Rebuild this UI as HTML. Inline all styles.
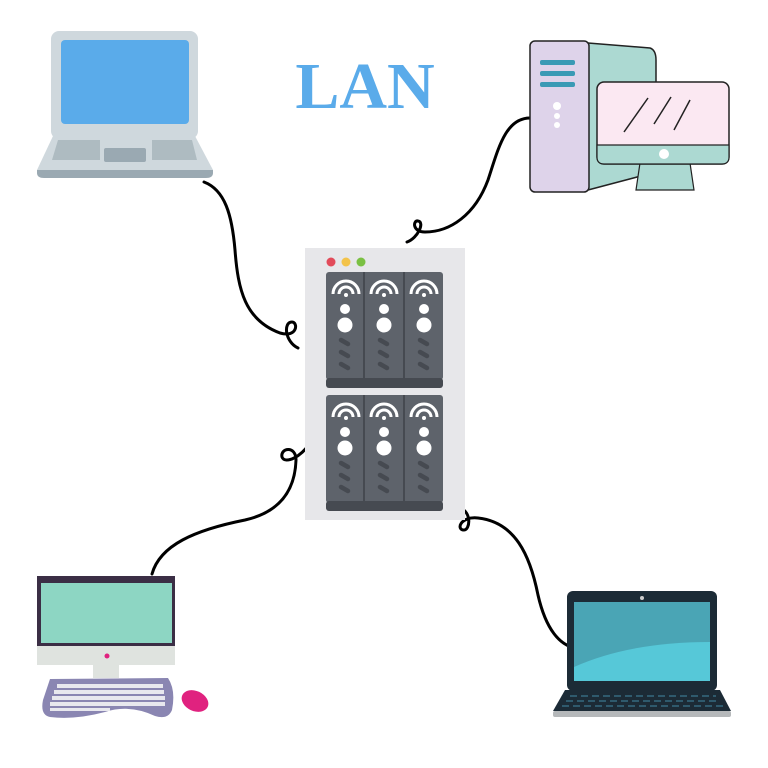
<!DOCTYPE html>
<html><head><meta charset="utf-8"><style>
html,body{margin:0;padding:0;background:#fff;width:768px;height:768px;overflow:hidden}
</style></head><body>
<svg width="768" height="768" viewBox="0 0 768 768" xmlns="http://www.w3.org/2000/svg">
<rect width="768" height="768" fill="#fff"/>
<text x="365" y="108" text-anchor="middle" font-family="Liberation Serif, serif" font-weight="bold" font-size="66" fill="#5aabea">LAN</text>

<g fill="none" stroke="#000" stroke-width="3" stroke-linecap="round">
<path d="M204,182 C225,190 232,215 235,250 C238,290 245,320 280,333 C298,338 298,322 292,322 C283,322 285,342 298,348"/>
<path d="M530,118 C505,118 498,150 488,180 C475,215 450,232 425,232 C412,232 413,220 418,221 C425,222 418,238 407,242"/>
<path d="M152,574 C160,545 195,530 245,520 C280,512 295,490 296,460 C296,445 280,448 282,457 C285,465 302,456 309,444"/>
<path d="M460,508 C472,512 470,530 464,530 C456,530 460,516 478,518 C515,522 530,555 538,595 C546,630 560,645 575,648"/>
</g>

<rect x="51" y="31" width="147" height="108" rx="8" fill="#cfd8dd"/>
<rect x="61" y="40" width="128" height="84" rx="4" fill="#5aabea"/>
<path d="M53,136 L195,136 L213,170 L37,170 Z" fill="#cfd8dd"/>
<path d="M37,170 L213,170 L213,173 Q213,178 206,178 L44,178 Q37,178 37,173 Z" fill="#9aa9b2"/>
<path d="M58,140 L100,140 L100,160 L52,160 Z" fill="#aebbc1"/>
<path d="M152,140 L192,140 L197,160 L152,160 Z" fill="#aebbc1"/>
<rect x="104" y="148" width="42" height="14" rx="2" fill="#9aa9b2"/>

<path d="M588,43 L650,48 Q656,50 656,60 L656,172 L588,190 Z" fill="#acd9d2" stroke="#222" stroke-width="1.5"/>
<rect x="530" y="41" width="59" height="151" rx="5" fill="#ded3ea" stroke="#222" stroke-width="1.5"/>
<rect x="540" y="60" width="35" height="5" rx="2" fill="#3a9ab5"/>
<rect x="540" y="71" width="35" height="5" rx="2" fill="#3a9ab5"/>
<rect x="540" y="82" width="35" height="5" rx="2" fill="#3a9ab5"/>
<circle cx="557" cy="106" r="4" fill="#fff"/><circle cx="557" cy="116" r="3" fill="#fff"/><circle cx="557" cy="125" r="3" fill="#fff"/>
<path d="M640,163 L690,163 L694,190 L636,190 Z" fill="#acd9d2" stroke="#222" stroke-width="1.2"/>
<rect x="597" y="82" width="132" height="82" rx="7" fill="#fbe8f2" stroke="#222" stroke-width="1.5"/>
<path d="M597,145 L729,145 L729,157 Q729,164 722,164 L604,164 Q597,164 597,157 Z" fill="#acd9d2" stroke="#222" stroke-width="1.2"/>
<circle cx="664" cy="154" r="5" fill="#fff"/>
<g stroke="#222" stroke-width="1.5"><line x1="648" y1="98" x2="624" y2="132"/><line x1="671" y1="97" x2="654" y2="124"/><line x1="690" y1="100" x2="674" y2="130"/></g>

<rect x="305" y="248" width="160" height="272" fill="#e7e7ea"/>
<circle cx="331" cy="262" r="4.5" fill="#e24b5a"/><circle cx="346" cy="262" r="4.5" fill="#f3c34a"/><circle cx="361" cy="262" r="4.5" fill="#7ac043"/>
<g id="bay">
<rect x="326" y="272" width="117" height="108" rx="3" fill="#5e636b"/>
<rect x="326" y="378" width="117" height="10" rx="3" fill="#464a51"/>
<line x1="364" y1="272" x2="364" y2="378" stroke="#464a51" stroke-width="2"/>
<line x1="404" y1="272" x2="404" y2="378" stroke="#464a51" stroke-width="2"/>
<g fill="none" stroke="#fff" stroke-width="3">
<path d="M333,294 A13,13 0 0 1 359,294"/><path d="M339,294 A7,7 0 0 1 353,294"/>
<path d="M371,294 A13,13 0 0 1 397,294"/><path d="M377,294 A7,7 0 0 1 391,294"/>
<path d="M411,294 A13,13 0 0 1 437,294"/><path d="M417,294 A7,7 0 0 1 431,294"/>
</g>
<g fill="#fff"><circle cx="346" cy="295" r="2"/><circle cx="384" cy="295" r="2"/><circle cx="424" cy="295" r="2"/>
<circle cx="345" cy="309" r="5"/><circle cx="384" cy="309" r="5"/><circle cx="424" cy="309" r="5"/>
<circle cx="345" cy="325" r="7.5"/><circle cx="384" cy="325" r="7.5"/><circle cx="424" cy="325" r="7.5"/></g>
<g stroke="#464a51" stroke-width="4.5" stroke-linecap="round">
<line x1="341" y1="340" x2="348" y2="344"/><line x1="341" y1="352" x2="348" y2="356"/><line x1="341" y1="364" x2="348" y2="368"/>
<line x1="380" y1="340" x2="387" y2="344"/><line x1="380" y1="352" x2="387" y2="356"/><line x1="380" y1="364" x2="387" y2="368"/>
<line x1="420" y1="340" x2="427" y2="344"/><line x1="420" y1="352" x2="427" y2="356"/><line x1="420" y1="364" x2="427" y2="368"/>
</g>
</g>
<use href="#bay" transform="translate(0,123)"/>

<rect x="37" y="576" width="138" height="70" fill="#3b2e45"/>
<rect x="41" y="583" width="131" height="60" fill="#8dd6c3"/>
<rect x="37" y="646" width="138" height="19" fill="#dfe3df"/>
<circle cx="107" cy="656" r="2.5" fill="#e0227f"/>
<rect x="93" y="665" width="26" height="13" fill="#dfe3df"/>
<path d="M50,679 L168,678 Q176,690 172,710 Q168,720 155,716 Q130,704 105,712 Q75,720 50,717 Q40,715 43,700 Z" fill="#8a86b2"/>
<g fill="#e8e8ee">
<rect x="57" y="684" width="106" height="4"/><rect x="54" y="690" width="110" height="4"/><rect x="52" y="696" width="113" height="4"/><rect x="50" y="702" width="115" height="4"/><rect x="50" y="708" width="60" height="3"/>
</g>
<ellipse cx="195" cy="701" rx="14" ry="10" transform="rotate(25 195 701)" fill="#e0227f"/>

<rect x="567" y="591" width="150" height="100" rx="6" fill="#1c2b36"/>
<rect x="574" y="602" width="136" height="79" fill="#4aa5b5"/>
<path d="M574,667 Q630,642 710,642 L710,681 L574,681 Z" fill="#56c8d8"/>
<circle cx="642" cy="598" r="2" fill="#ccc"/>
<path d="M565,690 L720,690 L731,711 L553,711 Z" fill="#1c2b36"/>
<rect x="553" y="711" width="178" height="6" rx="2" fill="#b5b8ba"/>
<g stroke="#2f5a6d" stroke-width="2" stroke-dasharray="7,4"><line x1="570" y1="696" x2="716" y2="696"/><line x1="566" y1="701" x2="720" y2="701"/><line x1="562" y1="706" x2="724" y2="706"/></g>
</svg>
</body></html>
